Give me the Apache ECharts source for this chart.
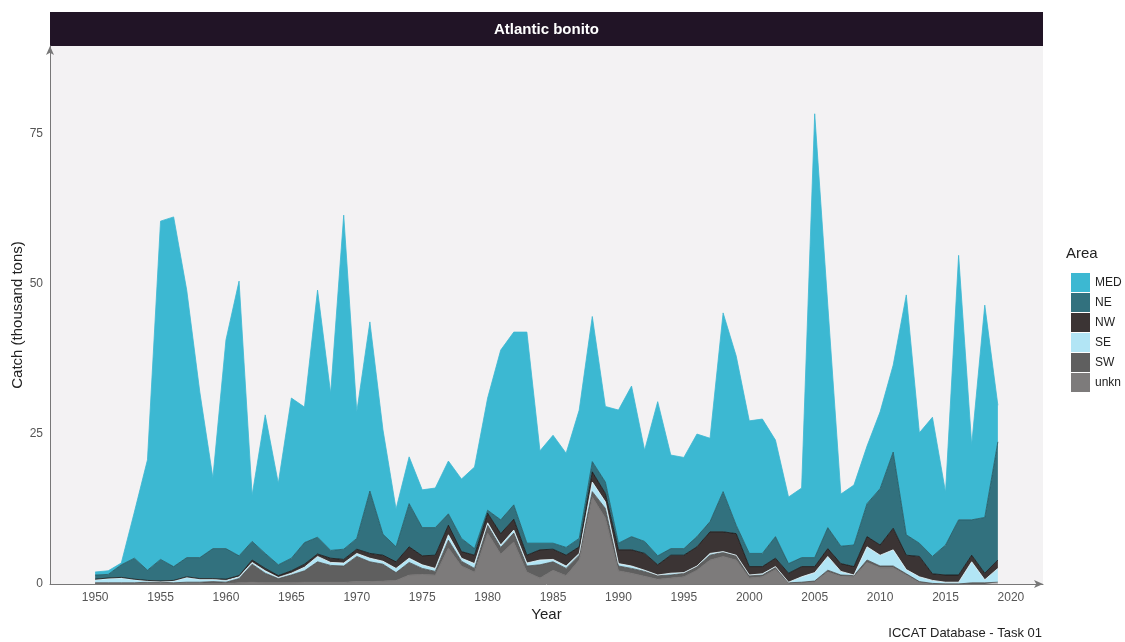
<!DOCTYPE html>
<html>
<head>
<meta charset="utf-8">
<script src="https://cdn.jsdelivr.net/npm/echarts@6/dist/echarts.min.js"></script>
<style>
html,body{margin:0;padding:0;background:#fff;}
#c{width:1125px;height:642px;}
</style>
</head>
<body>
<div id="c"></div>
<script>
const years = [1950,1951,1952,1953,1954,1955,1956,1957,1958,1959,1960,1961,1962,1963,1964,1965,1966,1967,1968,1969,1970,1971,1972,1973,1974,1975,1976,1977,1978,1979,1980,1981,1982,1983,1984,1985,1986,1987,1988,1989,1990,1991,1992,1993,1994,1995,1996,1997,1998,1999,2000,2001,2002,2003,2004,2005,2006,2007,2008,2009,2010,2011,2012,2013,2014,2015,2016,2017,2018,2019];
const MED = [0.5,0.6,0.3,7.7,18.4,56.4,58.3,44.6,27.6,11.8,34.8,45.8,7.7,23.1,13.6,26.7,22.6,41.2,26.2,55.7,21.1,28.2,17.4,6.3,7.8,6.3,6.6,8.8,9.9,13.6,18.7,28.3,28.8,35.2,15.4,18.0,15.7,21.4,24.2,12.6,22.2,25.1,15.2,25.7,15.6,15.2,17.1,13.9,29.8,28.2,22.1,22.4,16.1,11.1,11.6,74.0,37.1,8.7,10.0,9.6,12.8,14.5,40.0,18.4,23.2,8.8,44.1,12.5,35.4,6.1];
const NE = [0.7,0.6,2.1,3.5,1.7,3.6,2.3,3.2,3.5,5.0,5.1,3.3,3.1,2.5,1.8,2.1,3.6,2.8,1.3,1.7,1.8,10.4,3.5,2.5,7.2,4.7,4.6,1.9,2.2,1.1,0.5,2.3,2.4,2.0,1.1,1.0,1.3,1.4,1.7,1.9,1.1,2.2,2.0,1.5,1.1,1.1,1.7,1.7,6.7,1.4,2.2,2.2,3.6,1.6,1.5,1.5,3.5,2.9,3.6,5.5,9.4,12.7,3.4,2.2,2.9,5.0,9.2,5.9,9.3,19.7];
const NW = [0.1,0.1,0.1,0.1,0.1,0.1,0.1,0.1,0.1,0.1,0.2,0.2,0.4,0.4,0.3,0.4,0.5,0.4,0.7,0.6,0.7,0.8,1.0,1.1,1.9,1.5,2.2,1.6,1.1,1.4,1.6,1.9,1.8,1.3,1.7,1.7,1.8,1.1,1.7,1.4,2.3,2.7,2.8,1.7,3.0,2.9,3.2,3.6,3.3,3.6,1.4,1.2,1.4,1.5,1.7,1.0,1.3,1.3,1.4,1.7,1.7,3.6,2.4,3.4,1.1,1.2,1.2,1.1,1.1,1.4];
const SE = [0.5,0.7,0.8,0.5,0.2,0.1,0.3,0.8,0.5,0.4,0.3,0.3,0.3,0.4,0.2,0.3,0.6,0.9,0.5,0.5,0.5,0.6,0.5,0.7,0.7,0.6,0.5,0.9,0.5,0.8,0.4,0.4,0.5,0.5,0.8,0.4,0.4,0.3,1.6,1.1,0.4,0.4,0.2,0.1,0.3,0.1,0.1,0.3,0.1,0.1,0.1,0.2,0.1,0.1,0.9,1.4,2.3,0.6,0.1,2.2,1.8,2.7,0.7,0.8,0.5,0.3,0.3,3.5,0.5,2.3];
const SW = [0.1,0.1,0.1,0.1,0.2,0.2,0.1,0.2,0.2,0.3,0.2,0.7,3.0,1.6,0.7,1.3,1.9,3.4,2.8,2.7,4.2,3.3,2.8,1.3,2.1,1.0,0.6,1.3,0.8,0.6,1.3,1.1,1.5,1.0,2.2,1.4,1.2,0.8,0.9,1.6,0.8,0.8,0.8,0.6,0.5,0.6,0.6,0.8,0.7,0.7,0.4,0.3,0.4,0.1,0.1,0.1,0.3,0.2,0.2,0.4,0.3,0.3,0.2,0.1,0.1,0,0,0.2,0.2,0.3];
const UNKN = [0.1,0.1,0.1,0.1,0.1,0.1,0.1,0.1,0.1,0.1,0.1,0.2,0.3,0.2,0.2,0.2,0.3,0.3,0.3,0.3,0.4,0.4,0.5,0.6,1.5,1.6,1.5,6.0,3.0,2.0,8.5,5.0,7.0,2.0,1.0,2.3,1.4,4.0,14.5,11.0,2.2,1.8,1.3,0.8,1.0,1.2,2.3,4.0,4.6,4.0,1.0,1.2,2.4,0.1,0.2,0.4,2.0,1.3,1.2,3.6,2.7,2.7,1.5,0.3,0,0,0,0,0,0];
const xTicks = [1950,1955,1960,1965,1970,1975,1980,1985,1990,1995,2000,2005,2010,2015,2020];
const yTicks = [0,25,50,75];
const legendOrder = ['MED','NE','NW','SE','SW','unkn'];

const FONT = '"Liberation Sans", Arial, sans-serif';
const styles = {
  MED:  {fill:'#3cb8d2', line:'#3cb8d2'},
  NE:   {fill:'#32717e', line:'#1f5560'},
  NW:   {fill:'#3b3434', line:'#141010'},
  SE:   {fill:'#b2e5f5', line:'#e6f7fc'},
  SW:   {fill:'#5f5f5f', line:'#4a4a4a'},
  unkn: {fill:'#7d7b7b', line:'#727070'}
};
const seriesData = {MED:MED, NE:NE, NW:NW, SE:SE, SW:SW, unkn:UNKN};
const stackOrder = ['unkn','SW','SE','NW','NE','MED'];

// data stored as [value, year] so the stacked dimension (first) is the catch value
const series = stackOrder.map(name => ({
  name: name,
  type: 'line',
  stack: 'total',
  symbol: 'none',
  showSymbol: false,
  dimensions: ['catch', 'year'],
  encode: {x: 1, y: 0},
  data: years.map((y,i) => [seriesData[name][i], y]),
  lineStyle: {width: 0.8, color: styles[name].line},
  itemStyle: {color: styles[name].fill},
  areaStyle: {color: styles[name].fill, opacity: 1},
  emphasis: {disabled: true},
  animation: false
}));

const chart = echarts.init(document.getElementById('c'));
chart.setOption({
  animation: false,
  backgroundColor: '#ffffff',
  textStyle: {fontFamily: FONT},
  grid: {left: 50, right: 82, top: 46, bottom: 58, show: true, backgroundColor: '#f3f2f3', borderWidth: 0, containLabel: false, outerBoundsMode: 'none'},
  xAxis: {
    type: 'value',
    min: 1946.55,
    max: 2022.45,
    name: 'Year',
    nameLocation: 'middle',
    nameGap: 23,
    nameMoveOverlap: false,
    nameTextStyle: {fontSize: 15, color: '#222', fontFamily: FONT, verticalAlign: 'top'},
    axisLine: {show: true, onZero: false, lineStyle: {color: '#777', width: 1}, symbol: ['none','arrow'], symbolSize: [6, 9]},
    axisTick: {show: false, customValues: xTicks},
    axisLabel: {customValues: xTicks, color: '#555', fontSize: 12, margin: 8, fontFamily: FONT, formatter: v => String(v)},
    splitLine: {show: false}
  },
  yAxis: {
    type: 'value',
    min: 0,
    max: 89.7,
    name: 'Catch (thousand tons)',
    nameLocation: 'middle',
    nameGap: 25,
    nameMoveOverlap: false,
    nameTextStyle: {fontSize: 15, color: '#222', fontFamily: FONT},
    axisLine: {show: true, onZero: false, lineStyle: {color: '#777', width: 1}, symbol: ['none','arrow'], symbolSize: [6, 9]},
    axisTick: {show: false, customValues: yTicks},
    axisLabel: {customValues: yTicks, color: '#555', fontSize: 12, margin: 7, fontFamily: FONT},
    splitLine: {show: false}
  },
  legend: {
    orient: 'vertical',
    left: 1066,
    top: 268,
    itemWidth: 19,
    itemHeight: 19,
    itemGap: 1,
    icon: 'rect',
    textStyle: {fontSize: 12, color: '#222', fontFamily: FONT},
    data: legendOrder.map(n => ({name: n, icon: 'rect', itemStyle: {color: styles[n].fill, borderWidth: 0}, lineStyle: {width: 0, opacity: 0}})),
    selectedMode: false
  },
  graphic: [
    {type: 'rect', left: 50, top: 12, shape: {width: 993, height: 34}, style: {fill: '#211426'}, silent: true},
    {type: 'text', x: 546.5, y: 30, style: {text: 'Atlantic bonito', fill: '#ffffff', font: 'bold 15px ' + FONT, textAlign: 'center', textVerticalAlign: 'middle'}, silent: true},
    {type: 'text', left: 1066, top: 246, style: {text: 'Area', fill: '#222', font: '15px ' + FONT}, silent: true},
    {type: 'text', right: 83, top: 627, style: {text: 'ICCAT Database - Task 01', fill: '#222', font: '13px ' + FONT}, silent: true}
  ],
  series: series
});
</script>
</body>
</html>
